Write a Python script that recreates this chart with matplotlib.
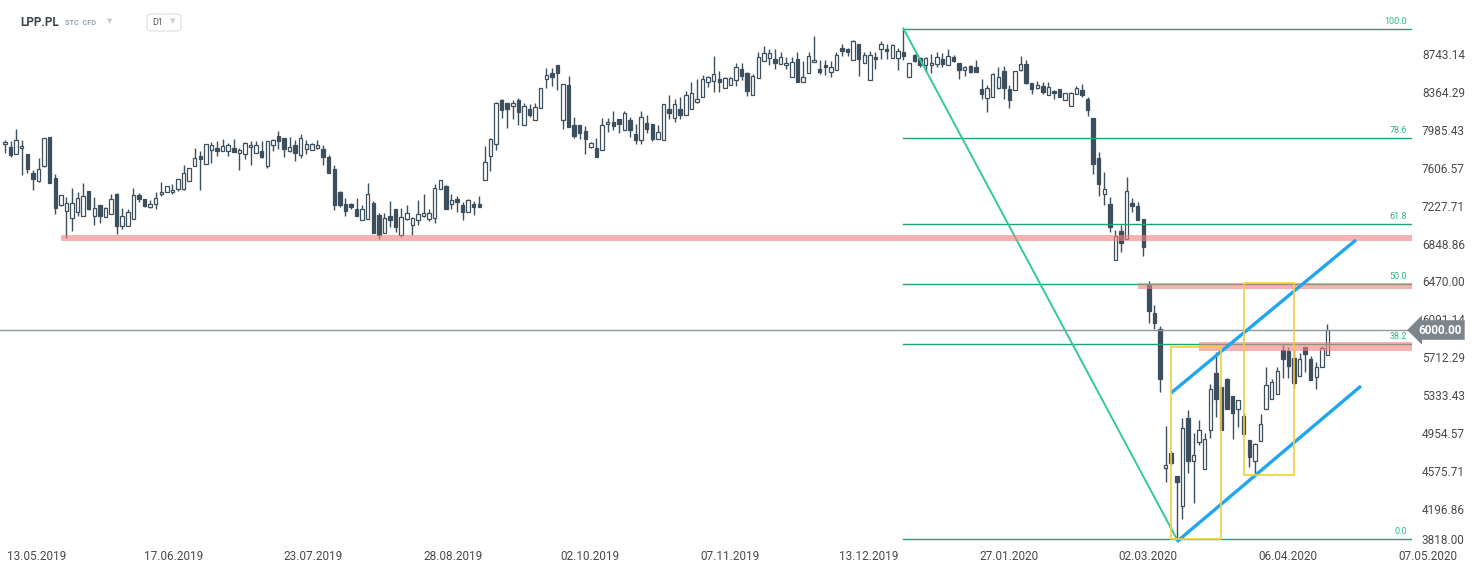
import numpy as np
import matplotlib
matplotlib.use("Agg")
import matplotlib.pyplot as plt
from matplotlib.patches import Rectangle, FancyBboxPatch

plt.rcParams['font.family'] = ['Roboto', 'DejaVu Sans']

ticker = "LPP.PL"

# daily candles (PLN)
opens = [7857, 7827, 7757, 7817, 7760, 7570, 7494, 7637, 7930, 7517,
         7254, 7194, 7117, 7184, 7144, 7390, 7144, 7247, 7134, 7164,
         7360, 7044, 7044, 7107, 7350, 7310, 7234, 7257, 7357, 7384,
         7377, 7407, 7407, 7494, 7637, 7740, 7657, 7797, 7820, 7787,
         7787, 7817, 7774, 7760,
         7827, 7774, 7787, 7644, 7847, 7940,
         7917, 7794, 7847, 7747, 7807, 7797, 7817, 7807, 7727, 7607,
         7384, 7257, 7257, 7207, 7097, 7110, 7267, 7147, 6974, 7137,
         7207, 6954, 7114, 7047, 7097, 7144, 7114, 7124, 7407, 7437,
         7257, 7307, 7247, 7177, 7257, 7257, 7497,
         7744, 7858, 8300,
         8270, 8237, 8300, 8047, 8207, 8097, 8217, 8507, 8570, 8650,
         8097, 8450, 8047, 8047, 7987, 7834, 7817, 7798, 8057, 8077,
         8107, 7997, 8097, 7957, 7897, 8067, 8057, 7907, 7897, 8207,
         8124, 8207, 8147, 8207, 8277, 8327, 8477, 8490, 8507,
         8420, 8447, 8497, 8607, 8567, 8354, 8517, 8687, 8717, 8707, 8657,
         8647, 8527, 8707, 8477, 8567, 8677, 8607, 8647, 8577, 8597,
         8817, 8807, 8700, 8857, 8667, 8497, 8727, 8807, 8807, 8717,
         8717, 8777, 8527, 8747, 8717, 8647, 8647, 8657,
         8710, 8650, 8730, 8667, 8597, 8637, 8627, 8407, 8317, 8327, 8417, 8587,
         8407, 8397, 8600, 8657, 8467, 8417, 8437, 8347, 8387, 8407,
         8297, 8237, 8357, 8397, 8307, 8117, 7725, 7365, 7265, 6699,
         6992, 6909, 7265, 7235, 7112,
         6450, 6174, 6007, 4619, 4775,
         4542, 4236, 5121, 4695, 4885, 4609, 5002, 5568, 5428, 5511,
         5335, 5208, 5141, 4902, 4695, 4895, 5208, 5308, 5358, 5801,
         5791, 5718, 5545, 5831, 5714, 5528, 5634, 5748]

highs = [7900, 7890, 8010, 7900, 7760, 7600, 7717, 7917, 7930, 7557,
         7354, 7327, 7417, 7377, 7467, 7390, 7327, 7247, 7234, 7360,
         7370, 7220, 7210, 7420, 7367, 7310, 7300, 7380, 7480, 7437,
         7460, 7510, 7650, 7617, 7817, 7787, 7857, 7877, 7887, 7910,
         7867, 7910, 7824, 7877,
         7887, 7887, 7887, 7887, 7914, 7990,
         7917, 7927, 7897, 7960, 7897, 7867, 7897, 7847, 7747, 7647,
         7394, 7317, 7267, 7317, 7247, 7467, 7287, 7167, 7167, 7287,
         7207, 7217, 7247, 7127, 7300, 7357, 7207, 7457, 7497, 7447,
         7357, 7337, 7277, 7307, 7287, 7337, 7840,
         7921, 8280, 8310,
         8270, 8300, 8320, 8270, 8257, 8270, 8417, 8620, 8620, 8650,
         8460, 8540, 8127, 8047, 8037, 7877, 7917, 8117, 8117, 8190,
         8107, 8190, 8127, 8057, 8190, 8147, 8057, 8047, 8257, 8347,
         8307, 8330, 8387, 8480, 8510, 8550, 8540, 8740, 8590,
         8527, 8527, 8674, 8674, 8580, 8560, 8777, 8837, 8814, 8814, 8777,
         8727, 8734, 8777, 8687, 8777, 8940, 8697, 8697, 8687, 8777,
         8857, 8817, 8897, 8857, 8777, 8787, 8777, 8887, 8857, 8857,
         8817, 9015, 8667, 8757, 8727, 8727, 8757, 8777,
         8767, 8807, 8750, 8667, 8637, 8647, 8697, 8507, 8447, 8567, 8627, 8637,
         8447, 8587, 8740, 8697, 8467, 8487, 8477, 8477, 8397, 8407,
         8367, 8377, 8437, 8457, 8327, 8117, 7777, 7581, 7335, 7002,
         7052, 7535, 7322, 7285, 7112,
         6490, 6254, 6040, 5042, 4800,
         4542, 5118, 5201, 4968, 5102, 4975, 5461, 5784, 5428, 5524,
         5335, 5301, 5175, 4902, 4868, 5161, 5628, 5508, 5628, 5851,
         5834, 5801, 5768, 5831, 5741, 5684, 5841, 6060]

lows = [7774, 7734, 7757, 7554, 7567, 7404, 7484, 7634, 7474, 7164,
        7244, 6924, 6994, 7141, 7144, 7204, 7054, 7067, 7134, 7157,
        6964, 7014, 7044, 7107, 7277, 7227, 7224, 7210, 7344, 7377,
        7364, 7394, 7397, 7494, 7637, 7404, 7657, 7667, 7737, 7787,
        7744, 7777, 7604, 7714,
        7654, 7774, 7720, 7624, 7794, 7807,
        7734, 7784, 7694, 7724, 7757, 7797, 7807, 7654, 7574, 7204,
        7234, 7141, 7214, 7144, 7097, 7110, 6967, 6910, 6974, 7034,
        6977, 6934, 7104, 6954, 7047, 7134, 7087, 7074, 7407, 7214,
        7207, 7180, 7097, 7177, 7147, 7234, 7497,
        7590, 7804, 8121,
        8021, 8114, 8047, 8047, 8134, 8097, 8217, 8424, 8444, 8404,
        8007, 8027, 7924, 7907, 7764, 7817, 7734, 7798, 7977, 8001,
        7967, 7997, 7927, 7864, 7864, 7967, 7887, 7907, 7897, 8107,
        8077, 8107, 8147, 8207, 8267, 8327, 8434, 8384, 8384,
        8420, 8447, 8444, 8500, 8344, 8354, 8517, 8687, 8647, 8614, 8657,
        8614, 8527, 8477, 8477, 8567, 8677, 8557, 8547, 8527, 8597,
        8737, 8737, 8700, 8537, 8667, 8497, 8607, 8707, 8707, 8717,
        8597, 8697, 8527, 8677, 8634, 8577, 8567, 8634,
        8627, 8650, 8677, 8507, 8537, 8567, 8577, 8307, 8177, 8327, 8407, 8307,
        8217, 8397, 8590, 8457, 8357, 8407, 8357, 8347, 8307, 8327,
        8297, 8237, 8357, 8327, 8137, 7565, 7345, 7255, 6985, 6699,
        6785, 6909, 7185, 7102, 6745,
        6067, 6014, 5384, 4479, 4650,
        3910, 4109, 4569, 4269, 4852, 4609, 4918, 5135, 5002, 5211,
        4908, 5035, 4958, 4635, 4552, 4895, 5208, 5308, 5358, 5524,
        5524, 5418, 5545, 5584, 5498, 5408, 5634, 5748]

closes = [7880, 7754, 7897, 7837, 7614, 7514, 7607, 7917, 7474, 7224,
          7347, 7267, 7267, 7317, 7337, 7210, 7217, 7144, 7217, 7307,
          7044, 7137, 7177, 7350, 7307, 7244, 7257, 7317, 7380, 7437,
          7400, 7510, 7567, 7617, 7717, 7714, 7857, 7847, 7794, 7837,
          7847, 7777, 7797, 7867,
          7847, 7847, 7730, 7887, 7897, 7894,
          7807, 7827, 7774, 7917, 7857, 7857, 7847, 7734, 7574, 7254,
          7254, 7194, 7234, 7144, 7207, 7357, 6974, 6954, 7117, 7097,
          7027, 7127, 7167, 7117, 7157, 7167, 7167, 7417, 7497, 7214,
          7297, 7277, 7177, 7297, 7234, 7234, 7677,
          7911, 8270, 8197,
          8207, 8270, 8177, 8240, 8154, 8227, 8417, 8547, 8534, 8574,
          8460, 8027, 7944, 7974, 7914, 7867, 7734, 8047, 8077, 8041,
          8057, 8167, 7997, 7897, 8127, 8007, 7914, 7977, 8257, 8167,
          8257, 8147, 8350, 8367, 8307, 8507, 8527, 8557, 8480,
          8517, 8517, 8627, 8540, 8387, 8537, 8727, 8767, 8767, 8674, 8727,
          8667, 8677, 8477, 8527, 8737, 8697, 8584, 8627, 8627, 8747,
          8794, 8777, 8887, 8707, 8747, 8747, 8707, 8857, 8787, 8847,
          8787, 8737, 8667, 8687, 8647, 8717, 8667, 8727,
          8660, 8740, 8687, 8597, 8627, 8577, 8577, 8357, 8417, 8557, 8527, 8417,
          8297, 8587, 8657, 8467, 8407, 8447, 8377, 8427, 8367, 8327,
          8367, 8367, 8417, 8347, 8197, 7665, 7465, 7412, 7035, 6935,
          6875, 7392, 7242, 7102, 6835,
          6194, 6067, 5507, 4652, 4675,
          4485, 5018, 4695, 4752, 5002, 4908, 5411, 5311, 5002, 5211,
          5168, 5295, 4958, 4735, 4858, 5058, 5448, 5475, 5591, 5708,
          5641, 5474, 5708, 5758, 5498, 5634, 5818, 6000]

date_labels = ["13.05.2019", "17.06.2019", "23.07.2019", "28.08.2019", "02.10.2019",
               "07.11.2019", "13.12.2019", "27.01.2020", "02.03.2020", "06.04.2020",
               "07.05.2020"]
date_pos = [5.7, 30.3, 55.2, 80.3, 104.8, 129.9, 154.8, 179.9, 204.8, 229.9, 255.0]

price_ticks = [8743.14, 8364.29, 7985.43, 7606.57, 7227.71, 6848.86, 6470.00,
               6091.14, 5712.29, 5333.43, 4954.57, 4575.71, 4196.86, 3818.00]
last_price = 6000.00

# fibonacci drawn from the high (bar 161) down to the low (bar 210)
fib_high, fib_low = 9015, 3910
fib_start, fib_end = 161, 210
fib_levels = [100.0, 78.6, 61.8, 50.0, 38.2, 0.0]

# support / resistance zones: start bar, low, high
zones = [(10.0, 6893, 6950), (203.0, 6410, 6467), (214.0, 5790, 5883)]
# rising channel
channel_upper = [(208.96, 5370), (242.1, 6900)]
channel_lower = [(210.0, 3883), (243.0, 5440)]
# boxes: bar from, bar to, price low, price high
boxes = [(208.96, 217.97, 3907, 5827), (222.1, 231.05, 4550, 6467)]

dark = "#3d4f5c"
fig = plt.figure(figsize=(14.82, 5.74), dpi=100)
ax = fig.add_axes([0, 1 - 545 / 574, 1412 / 1482, (545 - 17) / 574])
xmin, xmax = -0.9, 252.15
ax.set_xlim(xmin, xmax)
ax.set_ylim(3850, 9130)
ax.set_axis_off()

o = np.array(opens, float)
h = np.array(highs, float)
l = np.array(lows, float)
c = np.array(closes, float)
x = np.arange(len(o))
up = c >= o
bottom = np.minimum(o, c)
height = np.maximum(np.abs(c - o), 12)

ax.vlines(x, l, h, color=dark, lw=1, zorder=2)
ax.bar(x[up], height[up], bottom=bottom[up], width=0.62, facecolor="white",
       edgecolor=dark, lw=0.9, zorder=3)
ax.bar(x[~up], height[~up], bottom=bottom[~up], width=0.62, facecolor=dark,
       edgecolor=dark, lw=0.9, zorder=3)

# fibonacci
for lvl in fib_levels:
    p = fib_low + (fib_high - fib_low) * lvl / 100
    ax.plot([fib_start, xmax], [p, p], color="#1fa374", lw=1, zorder=4)
    ax.text(251.3, p + 25, "%.1f" % lvl, color="#2bb985", fontsize=6.5,
            ha="right", va="bottom", zorder=5)
ax.plot([fib_start, fib_end], [fib_high, fib_low], color="#34c99b", lw=1.4, zorder=4)

# last price line
ax.axhline(last_price, color="#8d979c", lw=1, zorder=4)

# zones
for start, lo, hi in zones:
    ax.add_patch(Rectangle((start, lo), xmax - start, hi - lo, facecolor="lightcoral",
                           edgecolor="none", alpha=0.6, zorder=6))

# channel
for line in (channel_upper, channel_lower):
    ax.plot([line[0][0], line[1][0]], [line[0][1], line[1][1]], color="#1fa6f0",
            lw=2.4, solid_capstyle="butt", zorder=7)

for x0, x1, lo, hi in boxes:
    ax.add_patch(Rectangle((x0, lo), x1 - x0, hi - lo, facecolor="none",
                           edgecolor="#f5cd3d", lw=1.2, zorder=7))

# right price scale
ytr = ax.get_yaxis_transform()
for v in price_ticks:
    ax.text(1422 / 1412, max(v, 3890), "%.2f" % v, transform=ytr, fontsize=8.5,
            color="#4a4a4a", ha="left", va="center", clip_on=False)
ax.text(1418 / 1412, last_price, "%.2f" % last_price, transform=ytr, fontsize=8.5,
        fontweight="bold", color="white", ha="left", va="center", clip_on=False, zorder=10,
        bbox=dict(boxstyle="larrow,pad=0.28", facecolor="#7b858b", edgecolor="none"))

# date labels
xtr = ax.get_xaxis_transform()
for pos, lab in zip(date_pos, date_labels):
    ax.text(pos, -12 / 528, lab, transform=xtr, fontsize=8.5, color="#4a4a4a",
            ha="center", va="center", clip_on=False)

# header
fig.text(20 / 1482, 1 - 22 / 574, ticker, fontsize=8.5, fontweight="bold",
         color="#3b434b", va="center")
fig.text(65 / 1482, 1 - 23 / 574, "STC  CFD", fontsize=5.3, fontweight="bold",
         color="#97a4ae", va="center")
fig.text(107 / 1482, 1 - 21 / 574, "\u25bc", fontsize=5, color="#c7ccd1", va="center",
         family="DejaVu Sans")
fig.patches.append(FancyBboxPatch((147 / 1482, 1 - 31 / 574), 34 / 1482, 17 / 574,
                                  boxstyle="round,pad=0,rounding_size=0.004",
                                  transform=fig.transFigure, facecolor="white",
                                  edgecolor="#dcdfe2", lw=0.8))
fig.text(152 / 1482, 1 - 22.5 / 574, "D1", fontsize=6.5, color="#555555", va="center")
fig.text(170 / 1482, 1 - 21.5 / 574, "\u25bc", fontsize=5, color="#c7ccd1", va="center",
         family="DejaVu Sans")

fig.savefig("out.png", dpi=100)
